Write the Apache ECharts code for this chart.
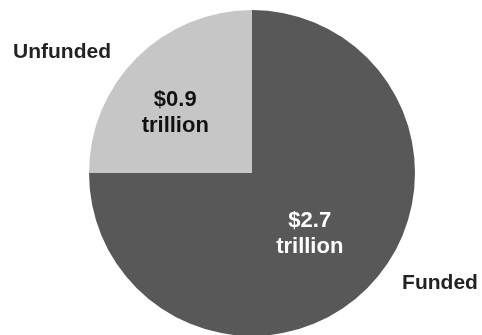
<!DOCTYPE html>
<html>
<head>
<meta charset="utf-8">
<script src="https://cdn.jsdelivr.net/npm/echarts@6/dist/echarts.min.js"></script>
<style>html,body{margin:0;padding:0;background:#fff;}#c{width:482px;height:335px;}</style>
</head>
<body>
<div id="c"></div>
<script>
var categories = ['Funded', 'Unfunded'];
var values = [2.7, 0.9];
var valueLabels = ['$2.7\ntrillion', '$0.9\ntrillion'];
var colors = ['#585858', '#c6c6c6'];
var valueTextColors = ['#ffffff', '#111111'];

var chart = echarts.init(document.getElementById('c'), null, {renderer: 'canvas'});
var fontFamily = '"Liberation Sans", Arial, sans-serif';
var center = [252, 173];
var radius = 163;
var namePos = [[440, 283], [62, 52]];
var valueOffsets = [[-2, 1], [-17, 0]];

var dataInner = categories.map(function (c, i) {
  return {
    name: c, value: values[i],
    itemStyle: {color: colors[i]},
    label: {
      formatter: valueLabels[i], color: valueTextColors[i],
      offset: valueOffsets[i]
    }
  };
});
var dataOuter = categories.map(function (c, i) {
  return {name: c, value: values[i]};
});

chart.setOption({
  animation: false,
  series: [
    {
      type: 'pie', center: center, radius: radius,
      startAngle: 90, clockwise: true,
      data: dataInner,
      itemStyle: {borderWidth: 0},
      label: {
        show: true, position: 'inside',
        fontFamily: fontFamily, fontWeight: 'bold', fontSize: 22,
        lineHeight: 26, align: 'center'
      },
      labelLine: {show: false},
      emphasis: {disabled: true}
    },
    {
      type: 'pie', center: center, radius: radius,
      startAngle: 90, clockwise: true, silent: true,
      data: dataOuter,
      itemStyle: {color: 'rgba(0,0,0,0)'},
      label: {
        show: true, position: 'outside', formatter: '{b}',
        fontFamily: fontFamily, fontWeight: 'bold', fontSize: 21,
        color: '#222222', overflow: 'none', width: 200
      },
      labelLine: {show: false},
      labelLayout: function (p) {
        var pos = namePos[p.dataIndex];
        return {x: pos[0], y: pos[1], align: 'center', verticalAlign: 'middle'};
      },
      emphasis: {disabled: true}
    }
  ]
});
</script>
</body>
</html>
